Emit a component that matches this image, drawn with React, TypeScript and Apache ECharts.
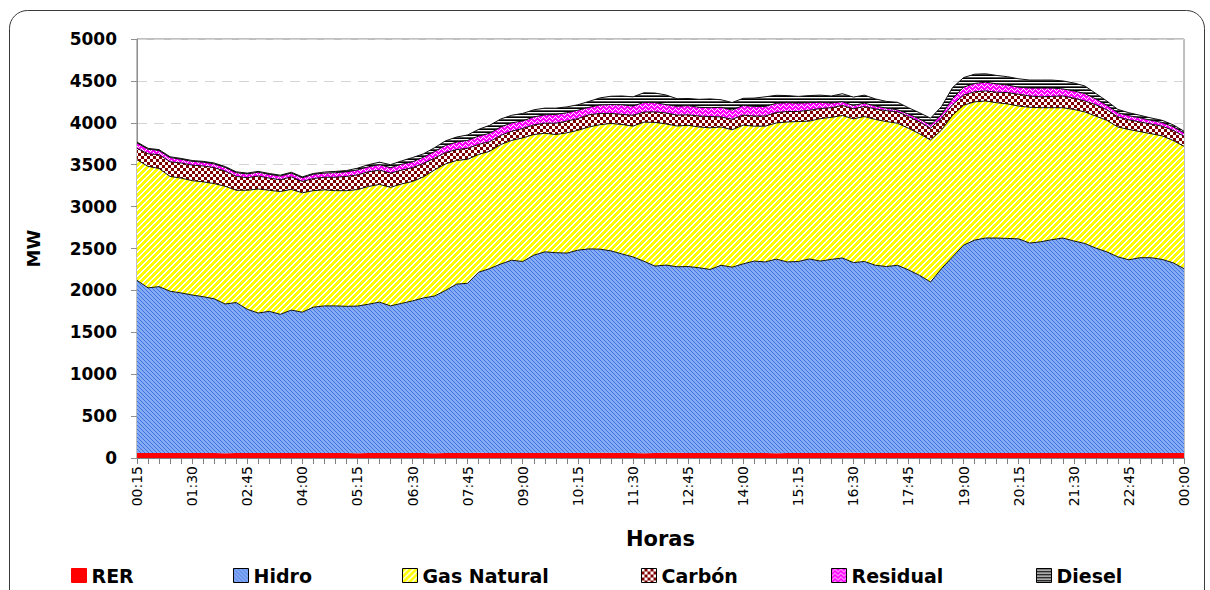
import React, { useEffect, useRef } from "react";
import * as echarts from "echarts";

const categories = [
  "00:15","00:30","00:45","01:00","01:15","01:30","01:45","02:00","02:15","02:30","02:45","03:00",
  "03:15","03:30","03:45","04:00","04:15","04:30","04:45","05:00","05:15","05:30","05:45","06:00",
  "06:15","06:30","06:45","07:00","07:15","07:30","07:45","08:00","08:15","08:30","08:45","09:00",
  "09:15","09:30","09:45","10:00","10:15","10:30","10:45","11:00","11:15","11:30","11:45","12:00",
  "12:15","12:30","12:45","13:00","13:15","13:30","13:45","14:00","14:15","14:30","14:45","15:00",
  "15:15","15:30","15:45","16:00","16:15","16:30","16:45","17:00","17:15","17:30","17:45","18:00",
  "18:15","18:30","18:45","19:00","19:15","19:30","19:45","20:00","20:15","20:30","20:45","21:00",
  "21:15","21:30","21:45","22:00","22:15","22:30","22:45","23:00","23:15","23:30","23:45","00:00",
];

const rer = [
  60,60,60,60,60,60,60,60,58,60,60,60, 60,60,60,60,60,60,60,60,58,60,60,60,
  60,60,60,58,60,60,60,62,60,60,60,60, 60,60,60,60,60,60,62,62,60,60,58,60,
  62,62,60,60,60,60,62,62,60,60,58,60, 60,60,60,60,62,62,60,60,60,60,60,60,
  60,60,60,60,60,60,60,60,60,60,60,60, 60,60,60,60,60,60,60,60,60,60,60,60,
];

const hidro = [
  2060,1970,1985,1930,1910,1885,1865,1840,1780,1795,1715,1670,
  1690,1655,1705,1680,1740,1755,1755,1750,1755,1775,1800,1755,
  1785,1815,1850,1875,1940,2015,2025,2155,2200,2255,2300,2285,
  2360,2400,2390,2385,2420,2435,2430,2410,2375,2340,2290,2230,
  2240,2220,2225,2210,2190,2240,2215,2255,2290,2280,2315,2280,
  2285,2315,2290,2310,2325,2270,2285,2240,2225,2240,2185,2120,
  2040,2200,2340,2480,2540,2565,2565,2560,2555,2505,2520,2545,
  2565,2530,2500,2445,2400,2340,2305,2330,2330,2310,2270,2200,
];

const gasNatural = [
  1440,1450,1410,1370,1370,1365,1370,1375,1405,1340,1420,1480,
  1445,1465,1440,1425,1390,1385,1375,1380,1390,1405,1405,1415,
  1425,1425,1445,1505,1510,1475,1480,1405,1400,1425,1430,1475,
  1440,1415,1410,1435,1430,1455,1485,1520,1545,1560,1660,1715,
  1685,1680,1685,1680,1690,1650,1640,1655,1610,1620,1625,1670,
  1670,1645,1700,1695,1700,1715,1730,1740,1730,1695,1690,1690,
  1695,1655,1690,1670,1650,1635,1615,1605,1585,1620,1600,1575,
  1555,1570,1570,1575,1570,1550,1555,1505,1480,1475,1460,1460,
];

const carbon = [
  135,150,165,175,180,185,190,190,180,165,150,155,
  145,140,150,135,145,150,160,170,175,175,170,170,
  165,165,160,140,135,130,130,120,115,110,110,112,
  115,120,135,140,140,145,135,120,120,130,120,125,
  130,130,125,130,135,120,125,120,120,120,125,125,
  120,130,120,115,120,120,120,125,130,135,140,140,
  140,140,125,120,120,120,125,135,140,135,130,135,
  140,135,130,135,125,120,115,115,115,115,120,120,
];

const residual = [
  65,55,50,50,45,45,45,45,45,45,45,45,
  45,45,45,45,50,50,55,55,60,60,65,65,
  70,70,75,80,85,90,95,100,100,100,100,90,
  95,100,105,100,100,90,100,105,115,110,115,110,
  100,105,110,105,105,115,110,115,115,115,110,105,
  100,90,75,55,45,40,40,35,30,25,30,35,
  40,45,75,95,100,105,100,90,85,95,105,100,
  85,85,90,70,55,50,50,50,45,45,45,40,
];

const diesel = [
  10,10,10,10,10,10,10,10,10,10,10,10,
  10,10,10,10,10,12,15,15,20,25,30,35,
  40,50,40,45,55,60,65,80,95,95,90,90,
  85,80,75,70,65,70,85,100,105,110,115,115,
  115,90,85,95,105,90,90,85,100,115,95,85,
  80,85,85,85,95,100,95,85,80,90,75,75,
  80,95,130,115,110,100,100,100,100,95,95,95,
  95,95,90,65,50,40,35,30,28,25,22,20,
];

const seriesNames = ["RER", "Hidro", "Gas Natural", "Carbón", "Residual", "Diesel"];
const seriesValues = [rer, hidro, gasNatural, carbon, residual, diesel];
const yTicks = { min: 0, max: 5000, interval: 500 };

function makePattern(w: number, h: number, draw: (x: number, y: number) => string) {
  const c = document.createElement("canvas");
  c.width = w;
  c.height = h;
  const ctx = c.getContext("2d")!;
  for (let y = 0; y < h; y++) {
    for (let x = 0; x < w; x++) {
      ctx.fillStyle = draw(x, y);
      ctx.fillRect(x, y, 1, 1);
    }
  }
  return { image: c, repeat: "repeat" as const };
}

export default function App() {
  const ref = useRef<HTMLDivElement>(null);
  useEffect(() => {
    if (!ref.current) return;
    const chart = echarts.init(ref.current, undefined, { renderer: "svg" });

    const zig = [3, 2, 1, 0, 1, 2];
    const fills: any[] = [
      "#ff0000",
      makePattern(4, 4, (x, y) => ((((x - y) % 4) + 4) % 4 < 1 ? "#4173e0" : "#86abf5")),
      makePattern(6, 6, (x, y) => ((x + y) % 6 < 4 ? "#ffff00" : "#ffffff")),
      makePattern(6, 6, (x, y) => ((Math.floor(x / 3) + Math.floor(y / 3)) % 2 ? "#800000" : "#ffffff")),
      makePattern(6, 4, (x, y) => (y === zig[x] ? "#ffffff" : "#ff00ff")),
      makePattern(1, 3, (x, y) => (y === 0 ? "#000000" : y === 1 ? "#ffffff" : "#555555")),
    ];

    const font = '"DejaVu Sans", Verdana, sans-serif';
    const legendLefts = [66, 228, 397, 636, 826, 1031];

    const series = seriesNames.map((name, i) => ({
      name,
      type: "line",
      stack: "total",
      data: seriesValues[i],
      symbol: "none",
      smooth: false,
      lineStyle: { width: i === 0 ? 0 : 1, color: i === 0 ? "#ff0000" : "#111111" },
      itemStyle: { color: i === 0 ? "#ff0000" : "#333333" },
      areaStyle: { color: fills[i], opacity: 1 },
      emphasis: { disabled: true },
      z: 2,
    }));

    const legends = seriesNames.map((name, i) => ({
      data: [name],
      left: legendLefts[i],
      top: 561,
      icon: "rect",
      itemWidth: 15,
      itemHeight: 14,
      itemGap: 0,
      selectedMode: false,
      itemStyle: { color: fills[i], borderColor: i === 0 ? "#ff0000" : "#000000", borderWidth: 1 },
      textStyle: { fontFamily: font, fontWeight: "bold", fontSize: 19, color: "#000", padding: [0, 0, 0, 0] },
    }));

    chart.setOption({
      animation: false,
      backgroundColor: "#ffffff",
      grid: { left: 137, right: 26, top: 39, bottom: 132, show: true, borderColor: "#808080", borderWidth: 1, backgroundColor: "transparent" },
      legend: legends,
      graphic: [
        {
          type: "rect",
          silent: true,
          z: -10,
          shape: { x: 9.5, y: 10.5, width: 1195, height: 640, r: 18 },
          style: { fill: "none", stroke: "#3a3a3a", lineWidth: 1 },
        },
      ],
      xAxis: {
        type: "category",
        data: categories,
        boundaryGap: false,
        name: "Horas",
        nameLocation: "middle",
        nameGap: 70,
        nameTextStyle: { fontFamily: font, fontWeight: "bold", fontSize: 21, color: "#000" },
        axisLine: { lineStyle: { color: "#808080", width: 1 } },
        axisTick: { show: true, interval: 0, length: 6, lineStyle: { color: "#808080" } },
        axisLabel: { interval: 4, rotate: 90, margin: 8, fontFamily: font, fontSize: 14, color: "#000" },
        splitLine: { show: false },
      },
      yAxis: {
        type: "value",
        min: yTicks.min,
        max: yTicks.max,
        interval: yTicks.interval,
        name: "MW",
        nameLocation: "middle",
        nameRotate: 90,
        nameGap: 95,
        nameTextStyle: { fontFamily: font, fontWeight: "bold", fontSize: 18, color: "#000" },
        axisLine: { show: true, lineStyle: { color: "#909090", width: 1 } },
        axisTick: { show: true, length: 6, lineStyle: { color: "#909090" } },
        axisLabel: {
          margin: 20,
          fontFamily: font,
          fontWeight: "bold",
          fontSize: 17,
          color: "#000",
          formatter: (v: number) => String(v),
        },
        splitLine: { show: true, lineStyle: { type: [10, 7], color: "#d4d4d4", width: 1 } },
      },
      series,
    });
    return () => chart.dispose();
  }, []);
  return (
    <div
      ref={ref}
      style={{ position: "fixed", left: 0, top: 0, width: 1210, height: 590, background: "#fff" }}
    />
  );
}
